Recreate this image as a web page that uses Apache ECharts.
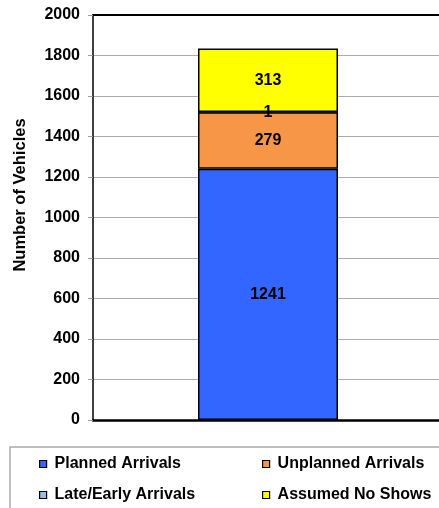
<!DOCTYPE html>
<html><head><meta charset="utf-8">
<script src="https://cdn.jsdelivr.net/npm/echarts@6/dist/echarts.min.js"></script>
<style>html,body{margin:0;padding:0;background:#fff}#c{width:439px;height:508px}</style>
</head><body><div id="c"></div>
<script>
var categories = [''];
var seriesNames = ['Planned Arrivals', 'Unplanned Arrivals', 'Late/Early Arrivals', 'Assumed No Shows'];
var planned = [1241];
var unplanned = [279];
var lateEarly = [1];
var noShows = [313];
var yTicks = [0, 200, 400, 600, 800, 1000, 1200, 1400, 1600, 1800, 2000];
var colors = ['#3366FF', '#F79646', '#99BBE8', '#FFFF00'];
var FONT = 'Liberation Sans, Arial, sans-serif';
var FS = 16;

var chart = echarts.init(document.getElementById('c'), null, {renderer: 'canvas'});
var values = [planned, unplanned, lateEarly, noShows];
var series = seriesNames.map(function (n, i) {
  return {
    name: n, type: 'bar', stack: 'total', data: values[i], barWidth: 140,
    itemStyle: {color: colors[i], borderColor: '#000', borderWidth: 1.5},
    label: {show: true, position: 'inside', color: '#000', fontWeight: 'bold', fontSize: FS, fontFamily: FONT},
    emphasis: {disabled: true}
  };
});
var legendPos = [[39, 456], [262, 456], [39, 487], [262, 487]];
var legends = seriesNames.map(function (n, i) {
  return {data: [n], left: legendPos[i][0], top: legendPos[i][1], padding: 0,
    icon: 'rect', itemWidth: 7, itemHeight: 7,
    itemStyle: {borderColor: '#000', borderWidth: 1.2},
    textStyle: {color: '#000', fontWeight: 'bold', fontSize: FS, fontFamily: FONT, padding: [0, 0, 0, 3]}};
});
chart.setOption({
  animation: false,
  grid: {left: 93, top: 15, right: -4, bottom: 88, outerBoundsMode: 'none', containLabel: false},
  xAxis: [
    {type: 'category', data: categories, axisTick: {show: false}, axisLabel: {show: false},
      axisLine: {lineStyle: {color: '#000', width: 2.5}}},
    {type: 'category', data: categories, position: 'top', axisTick: {show: false}, axisLabel: {show: false},
      axisLine: {show: true, lineStyle: {color: '#000', width: 2}}}
  ],
  yAxis: {type: 'value', min: yTicks[0], max: yTicks[yTicks.length - 1], interval: 200,
    axisLine: {show: true, lineStyle: {color: '#000', width: 1.5}},
    axisTick: {show: true, length: 5, lineStyle: {color: '#999'}},
    splitLine: {lineStyle: {color: '#aaa', width: 1}},
    axisLabel: {color: '#000', fontWeight: 'bold', fontSize: FS, fontFamily: FONT, margin: 13,
      formatter: function (v) { return String(v); }}},
  legend: legends,
  graphic: [
    {type: 'rect', shape: {x: 10, y: 447, width: 450, height: 80}, style: {fill: 'none', stroke: '#aaa', lineWidth: 1.5}, silent: true},
    {type: 'text', x: 20, y: 195, rotation: Math.PI / 2, style: {text: 'Number of Vehicles', fontWeight: 'bold', fontSize: 16.5, fontFamily: FONT, fill: '#000', align: 'center', verticalAlign: 'middle'}}
  ],
  series: series
});
</script></body></html>
